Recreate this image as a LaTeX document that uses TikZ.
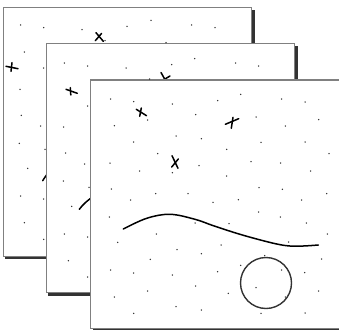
\documentclass[tikz,border=0pt]{standalone}
\begin{document}
\begin{tikzpicture}[x=1pt,y=-1pt,
  panelshadow/.style={fill=black!80,draw=none},
  panelbox/.style={fill=white,draw=black!50,line width=1.2pt},
  track/.style={draw=black,line width=1.5pt,line cap=round},
  mk/.style={draw=black,line width=1.5pt,line cap=round},
  ring/.style={draw=black!80,line width=1.4pt}]
\clip (0,0) rectangle (339,329);
\fill[white] (0,0) rectangle (339,329);
% panel 1
\path[panelshadow] (5.2,9.7) rectangle (254.8,259);
\path[panelbox] (3.2,7.7) rectangle (251.8,256.5);
\draw[track] (42.7,180.7) .. controls (44,178.5) .. (48,173);
\draw[mk] (6,66.3) -- (18,68.7);
\draw[mk] (12,62.7) -- (11,71.3);
\draw[mk] (96,32.7) -- (103.3,41.3);
\draw[mk] (101.5,33.5) -- (95.3,40.7);
% panel 2
\path[panelshadow] (48.2,45.7) rectangle (297.7,295.5);
\path[panelbox] (46.2,43.7) rectangle (294.7,292.5);
\draw[track] (79.3,209.3) .. controls (84,203.5) .. (96,194);
\draw[mk] (66,89.3) -- (77.3,93.3);
\draw[mk] (70.3,87.7) -- (70.8,95);
\draw[mk] (161,72.5) -- (168.5,86);
\draw[mk] (170,76) -- (160,82);
% panel 3
\path[panelshadow] (92.8,82) rectangle (342.5,331);
\path[panelbox] (90.8,80) rectangle (339.6,328.2);
\draw[track] plot[smooth,tension=0.6] coordinates {(123.3,229) (146.7,218.3) (170,214.3) (195,219.3) (213.3,225.7) (236.7,233.3) (256.7,239) (276.7,244) (290,246) (303.3,246) (318.3,245)};
\draw[ring] (266,283) circle[radius=25.5pt];
\draw[mk] (136.3,109.3) -- (146.5,115.7);
\draw[mk] (141.3,108) -- (139.7,116.3);
\draw[mk] (225.3,124.3) -- (238.7,118.7);
\draw[mk] (233,117.3) -- (231.3,128.3);
\draw[mk] (172,155.7) -- (178,168.3);
\draw[mk] (178.3,159) -- (171.7,167);
% dots
\foreach \x/\y in {20.7/25,43.7/27.7,82/29.7,127/26.3,151/20.3,105/40.7,24.3/52,166/42.7,43.7/68,64.3/63,87.7/66,126/68,149.7/79,20/89.3,110.7/99,133.7/101.7,87.7/106,147.7/120,21.3/115.3,40.7/126,63.7/127,114.3/125.7,19.3/143.3,45/149.3,65.7/153,133.7/142,157.7/153.7,27.7/168.3,84.7/164,110/163,
191.7/25,215/27.7,171.7/64.7,194.7/58.7,235.7/63,258.7/66,240.7/94.3,217.7/100.7,172.3/104,281.7/99,305/102,195.7/114.7,256/117,318.7/119.7,285.3/126,176/136,201.3/138.7,261/142.3,305/142,226.7/149.3,329/153.7,199/165.7,251/161.7,280.7/163,
139.7/171,63.3/181,89/187.3,20.7/196,43.7/199,111.3/189,130.7/200,155.7/193.7,71.7/206.3,24.3/222.7,109.3/217,156.3/234,117.7/242.3,43.7/239.3,64.3/234,87.7/237,150.3/259.3,68.3/260.7,110.7/270,133.7/273,87.7/277,147.7/291,114.3/297,133.7/313.3,
172.3/172.7,226.7/176,310.7/171,259/187.7,282.3/189.3,188/193.7,213/202.3,238.3/199.7,301.7/200,326.7/193.7,258.7/212,280.3/217,195/223,229/223.7,306.3/223,327.3/234,288.7/242,177/249.7,201.3/253.7,221/245,264.7/255.7,240.7/265.3,321.7/259,281.7/270,304.7/272.7,172.3/275,217.7/271.7,195.7/286,256/287.7,228.3/293.3,285.3/297,318.7/291,176/306.7,201.3/310,261/313.3,305/313}
  \fill[black!85] (\x,\y) circle[radius=0.75pt];
\end{tikzpicture}
\end{document}
